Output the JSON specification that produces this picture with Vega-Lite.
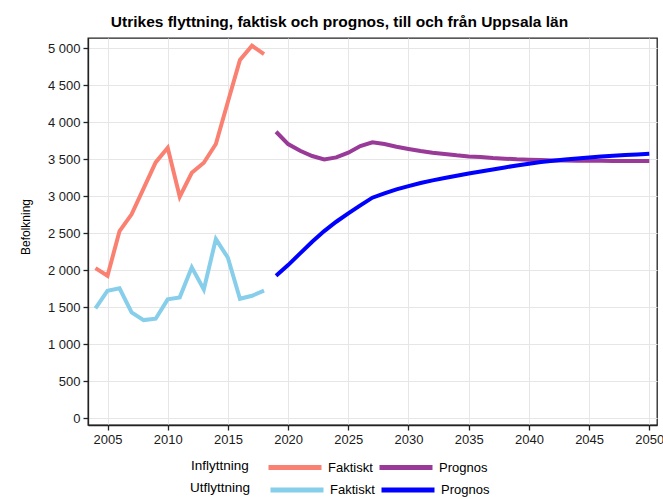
{
  "$schema": "https://vega.github.io/schema/vega-lite/v6.json",
  "autosize": {"type": "none"},
  "width": 569,
  "height": 387,
  "padding": {"left": 88, "top": 38, "right": 6, "bottom": 74},
  "background": "white",
  "title": {
    "text": "Utrikes flyttning, faktisk och prognos, till och från Uppsala län",
    "fontSize": 15.5,
    "fontWeight": "bold",
    "font": "Liberation Sans",
    "color": "black",
    "anchor": "middle",
    "baseline": "bottom",
    "dx": -33,
    "offset": -8
  },
  "datasets": {
    "flytt": [
      {"year": 2004, "dir": "Inflyttning", "typ": "Faktiskt", "value": 2030},
      {"year": 2005, "dir": "Inflyttning", "typ": "Faktiskt", "value": 1927},
      {"year": 2006, "dir": "Inflyttning", "typ": "Faktiskt", "value": 2531},
      {"year": 2007, "dir": "Inflyttning", "typ": "Faktiskt", "value": 2757},
      {"year": 2008, "dir": "Inflyttning", "typ": "Faktiskt", "value": 3108},
      {"year": 2009, "dir": "Inflyttning", "typ": "Faktiskt", "value": 3459},
      {"year": 2010, "dir": "Inflyttning", "typ": "Faktiskt", "value": 3657},
      {"year": 2011, "dir": "Inflyttning", "typ": "Faktiskt", "value": 2995},
      {"year": 2012, "dir": "Inflyttning", "typ": "Faktiskt", "value": 3319},
      {"year": 2013, "dir": "Inflyttning", "typ": "Faktiskt", "value": 3454},
      {"year": 2014, "dir": "Inflyttning", "typ": "Faktiskt", "value": 3707},
      {"year": 2015, "dir": "Inflyttning", "typ": "Faktiskt", "value": 4279},
      {"year": 2016, "dir": "Inflyttning", "typ": "Faktiskt", "value": 4842},
      {"year": 2017, "dir": "Inflyttning", "typ": "Faktiskt", "value": 5035},
      {"year": 2018, "dir": "Inflyttning", "typ": "Faktiskt", "value": 4923},
      {"year": 2004, "dir": "Utflyttning", "typ": "Faktiskt", "value": 1486},
      {"year": 2005, "dir": "Utflyttning", "typ": "Faktiskt", "value": 1725},
      {"year": 2006, "dir": "Utflyttning", "typ": "Faktiskt", "value": 1757},
      {"year": 2007, "dir": "Utflyttning", "typ": "Faktiskt", "value": 1432},
      {"year": 2008, "dir": "Utflyttning", "typ": "Faktiskt", "value": 1328},
      {"year": 2009, "dir": "Utflyttning", "typ": "Faktiskt", "value": 1346},
      {"year": 2010, "dir": "Utflyttning", "typ": "Faktiskt", "value": 1608},
      {"year": 2011, "dir": "Utflyttning", "typ": "Faktiskt", "value": 1635},
      {"year": 2012, "dir": "Utflyttning", "typ": "Faktiskt", "value": 2041},
      {"year": 2013, "dir": "Utflyttning", "typ": "Faktiskt", "value": 1743},
      {"year": 2014, "dir": "Utflyttning", "typ": "Faktiskt", "value": 2423},
      {"year": 2015, "dir": "Utflyttning", "typ": "Faktiskt", "value": 2170},
      {"year": 2016, "dir": "Utflyttning", "typ": "Faktiskt", "value": 1616},
      {"year": 2017, "dir": "Utflyttning", "typ": "Faktiskt", "value": 1657},
      {"year": 2018, "dir": "Utflyttning", "typ": "Faktiskt", "value": 1725},
      {"year": 2019, "dir": "Inflyttning", "typ": "Prognos", "value": 3873},
      {"year": 2020, "dir": "Inflyttning", "typ": "Prognos", "value": 3707},
      {"year": 2021, "dir": "Inflyttning", "typ": "Prognos", "value": 3616},
      {"year": 2022, "dir": "Inflyttning", "typ": "Prognos", "value": 3545},
      {"year": 2023, "dir": "Inflyttning", "typ": "Prognos", "value": 3500},
      {"year": 2024, "dir": "Inflyttning", "typ": "Prognos", "value": 3527},
      {"year": 2025, "dir": "Inflyttning", "typ": "Prognos", "value": 3590},
      {"year": 2026, "dir": "Inflyttning", "typ": "Prognos", "value": 3680},
      {"year": 2027, "dir": "Inflyttning", "typ": "Prognos", "value": 3730},
      {"year": 2028, "dir": "Inflyttning", "typ": "Prognos", "value": 3707},
      {"year": 2029, "dir": "Inflyttning", "typ": "Prognos", "value": 3671},
      {"year": 2030, "dir": "Inflyttning", "typ": "Prognos", "value": 3640},
      {"year": 2031, "dir": "Inflyttning", "typ": "Prognos", "value": 3612},
      {"year": 2032, "dir": "Inflyttning", "typ": "Prognos", "value": 3590},
      {"year": 2033, "dir": "Inflyttning", "typ": "Prognos", "value": 3572},
      {"year": 2034, "dir": "Inflyttning", "typ": "Prognos", "value": 3554},
      {"year": 2035, "dir": "Inflyttning", "typ": "Prognos", "value": 3540},
      {"year": 2036, "dir": "Inflyttning", "typ": "Prognos", "value": 3531},
      {"year": 2037, "dir": "Inflyttning", "typ": "Prognos", "value": 3518},
      {"year": 2038, "dir": "Inflyttning", "typ": "Prognos", "value": 3509},
      {"year": 2039, "dir": "Inflyttning", "typ": "Prognos", "value": 3500},
      {"year": 2040, "dir": "Inflyttning", "typ": "Prognos", "value": 3495},
      {"year": 2041, "dir": "Inflyttning", "typ": "Prognos", "value": 3491},
      {"year": 2042, "dir": "Inflyttning", "typ": "Prognos", "value": 3486},
      {"year": 2043, "dir": "Inflyttning", "typ": "Prognos", "value": 3484},
      {"year": 2044, "dir": "Inflyttning", "typ": "Prognos", "value": 3482},
      {"year": 2045, "dir": "Inflyttning", "typ": "Prognos", "value": 3481},
      {"year": 2046, "dir": "Inflyttning", "typ": "Prognos", "value": 3480},
      {"year": 2047, "dir": "Inflyttning", "typ": "Prognos", "value": 3479},
      {"year": 2048, "dir": "Inflyttning", "typ": "Prognos", "value": 3478},
      {"year": 2049, "dir": "Inflyttning", "typ": "Prognos", "value": 3478},
      {"year": 2050, "dir": "Inflyttning", "typ": "Prognos", "value": 3477},
      {"year": 2019, "dir": "Utflyttning", "typ": "Prognos", "value": 1927},
      {"year": 2020, "dir": "Utflyttning", "typ": "Prognos", "value": 2071},
      {"year": 2021, "dir": "Utflyttning", "typ": "Prognos", "value": 2229},
      {"year": 2022, "dir": "Utflyttning", "typ": "Prognos", "value": 2387},
      {"year": 2023, "dir": "Utflyttning", "typ": "Prognos", "value": 2531},
      {"year": 2024, "dir": "Utflyttning", "typ": "Prognos", "value": 2657},
      {"year": 2025, "dir": "Utflyttning", "typ": "Prognos", "value": 2770},
      {"year": 2026, "dir": "Utflyttning", "typ": "Prognos", "value": 2878},
      {"year": 2027, "dir": "Utflyttning", "typ": "Prognos", "value": 2982},
      {"year": 2028, "dir": "Utflyttning", "typ": "Prognos", "value": 3040},
      {"year": 2029, "dir": "Utflyttning", "typ": "Prognos", "value": 3095},
      {"year": 2030, "dir": "Utflyttning", "typ": "Prognos", "value": 3139},
      {"year": 2031, "dir": "Utflyttning", "typ": "Prognos", "value": 3180},
      {"year": 2032, "dir": "Utflyttning", "typ": "Prognos", "value": 3216},
      {"year": 2033, "dir": "Utflyttning", "typ": "Prognos", "value": 3247},
      {"year": 2034, "dir": "Utflyttning", "typ": "Prognos", "value": 3279},
      {"year": 2035, "dir": "Utflyttning", "typ": "Prognos", "value": 3310},
      {"year": 2036, "dir": "Utflyttning", "typ": "Prognos", "value": 3337},
      {"year": 2037, "dir": "Utflyttning", "typ": "Prognos", "value": 3364},
      {"year": 2038, "dir": "Utflyttning", "typ": "Prognos", "value": 3391},
      {"year": 2039, "dir": "Utflyttning", "typ": "Prognos", "value": 3418},
      {"year": 2040, "dir": "Utflyttning", "typ": "Prognos", "value": 3441},
      {"year": 2041, "dir": "Utflyttning", "typ": "Prognos", "value": 3463},
      {"year": 2042, "dir": "Utflyttning", "typ": "Prognos", "value": 3481},
      {"year": 2043, "dir": "Utflyttning", "typ": "Prognos", "value": 3499},
      {"year": 2044, "dir": "Utflyttning", "typ": "Prognos", "value": 3513},
      {"year": 2045, "dir": "Utflyttning", "typ": "Prognos", "value": 3526},
      {"year": 2046, "dir": "Utflyttning", "typ": "Prognos", "value": 3540},
      {"year": 2047, "dir": "Utflyttning", "typ": "Prognos", "value": 3549},
      {"year": 2048, "dir": "Utflyttning", "typ": "Prognos", "value": 3558},
      {"year": 2049, "dir": "Utflyttning", "typ": "Prognos", "value": 3567},
      {"year": 2050, "dir": "Utflyttning", "typ": "Prognos", "value": 3576}
    ]
  },
  "data": {"name": "flytt"},
  "encoding": {
    "x": {
      "field": "year",
      "type": "quantitative",
      "scale": {"domain": [2003.38, 2050.64], "nice": false, "zero": false},
      "axis": {
        "title": null,
        "values": [2005, 2010, 2015, 2020, 2025, 2030, 2035, 2040, 2045, 2050],
        "format": "d"
      }
    },
    "y": {
      "field": "value",
      "type": "quantitative",
      "scale": {"domain": [-90, 5140], "nice": false, "zero": false},
      "axis": {
        "title": "Befolkning",
        "values": [0, 500, 1000, 1500, 2000, 2500, 3000, 3500, 4000, 4500, 5000],
        "labelExpr": "replace(format(datum.value, ','), ',', ' ')",
        "titleAngle": -90,
        "titleAlign": "center",
        "titleBaseline": "middle",
        "titleX": -62.5,
        "titleY": 188.5,
        "titleFontSize": 12,
        "titleFontWeight": "normal"
      }
    }
  },
  "layer": [
    {
      "transform": [{"filter": "datum.dir === 'Inflyttning'"}],
      "mark": {"type": "line", "strokeWidth": 4},
      "encoding": {
        "color": {
          "field": "typ",
          "type": "nominal",
          "scale": {"domain": ["Faktiskt", "Prognos"], "range": ["#FA8072", "#993A99"]},
          "legend": {"title": "Inflyttning", "legendX": 103, "legendY": 400.5}
        }
      }
    },
    {
      "transform": [{"filter": "datum.dir === 'Utflyttning'"}],
      "mark": {"type": "line", "strokeWidth": 4},
      "encoding": {
        "color": {
          "field": "typ",
          "type": "nominal",
          "scale": {"domain": ["Faktiskt", "Prognos"], "range": ["#87CEEB", "#0000FF"]},
          "legend": {"title": "Utflyttning", "legendX": 102, "legendY": 423}
        }
      }
    }
  ],
  "resolve": {"scale": {"color": "independent"}, "legend": {"color": "independent"}},
  "config": {
    "font": "Liberation Sans",
    "view": {"stroke": "#222222", "strokeWidth": 1.3},
    "axis": {
      "labelFontSize": 13,
      "labelColor": "#1a1a1a",
      "labelFont": "Liberation Sans",
      "titleColor": "black",
      "titleFont": "Liberation Sans",
      "gridColor": "#e6e6e6",
      "gridWidth": 1,
      "domainColor": "#222222",
      "domainWidth": 1.3,
      "tickColor": "#222222",
      "tickWidth": 1.3,
      "tickSize": 5,
      "labelPadding": 3
    },
    "legend": {
      "orient": "none",
      "direction": "horizontal",
      "titleOrient": "left",
      "titleAnchor": "middle",
      "titleFontSize": 13.5,
      "titleFontWeight": "normal",
      "titleColor": "black",
      "titleFont": "Liberation Sans",
      "titlePadding": 17,
      "titleBaseline": "top",
      "labelFontSize": 13,
      "labelColor": "black",
      "labelFont": "Liberation Sans",
      "labelOffset": 4,
      "symbolType": "stroke",
      "symbolSize": 2809,
      "symbolStrokeWidth": 5,
      "columnPadding": -4,
      "padding": 0
    }
  }
}
